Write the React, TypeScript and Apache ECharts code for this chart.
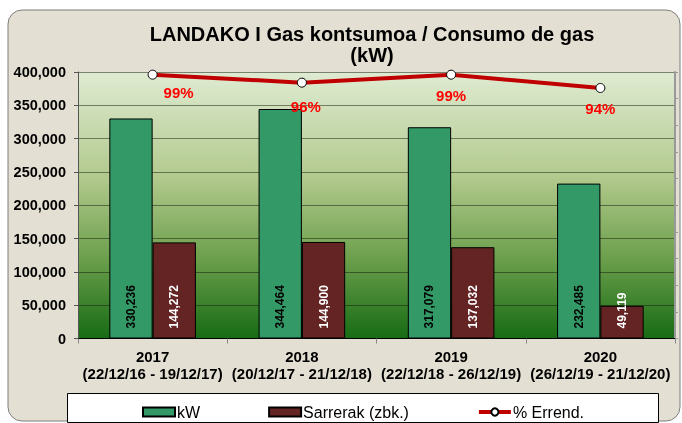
import React, { useEffect, useRef } from "react";
import * as echarts from "echarts";

const titleText = "LANDAKO I Gas kontsumoa / Consumo de gas\n(kW)";
const years = ["2017", "2018", "2019", "2020"];
const periods = [
  "(22/12/16 - 19/12/17)",
  "(20/12/17 - 21/12/18)",
  "(22/12/18 - 26/12/19)",
  "(26/12/19 - 21/12/20)",
];
const kwValues = [330236, 344464, 317079, 232485];
const sarrerakValues = [144272, 144900, 137032, 49119];
const errendValues = [0.99, 0.96, 0.99, 0.94];
const errendLabelOffsets = [
  [26, -3],
  [4, 3],
  [0, 0],
  [0, 0],
];
const seriesNames = ["kW", "Sarrerak (zbk.)", "% Errend."];

const FONT = "'Liberation Sans', Arial, sans-serif";

export default function App() {
  const ref = useRef<HTMLDivElement>(null);
  useEffect(() => {
    if (!ref.current) return;
    const chart = echarts.init(ref.current, null, { renderer: "svg" });
    const fmt = (v: number) => v.toLocaleString("en-US");
    const categories = years.map((y, i) => y + "\n" + periods[i]);
    chart.setOption({
      animation: false,
      backgroundColor: "transparent",
      textStyle: { fontFamily: FONT },
      graphic: [
        {
          type: "rect",
          z: -10,
          silent: true,
          shape: { x: 8, y: 10, width: 672, height: 411, r: 14 },
          style: { fill: "#e4dfd3", stroke: "#7d7d7d", lineWidth: 1 },
        },
        {
          type: "rect",
          z: -5,
          silent: true,
          shape: { x: 67.5, y: 393.5, width: 591, height: 29 },
          style: { fill: "#ffffff", stroke: "#000000", lineWidth: 1 },
        },
      ],
      title: {
        text: titleText,
        left: 367,
        top: 18,
        textAlign: "center",
        textStyle: {
          fontFamily: FONT,
          fontSize: 20,
          fontWeight: "bold",
          color: "#000",
          lineHeight: 21,
        },
      },
      legend: {
        left: 137,
        top: 399,
        itemGap: 68,
        itemWidth: 32,
        itemHeight: 9,
        data: [
          { name: seriesNames[0], icon: "rect" },
          { name: seriesNames[1], icon: "rect" },
          { name: seriesNames[2], lineStyle: { width: 4, color: "#c00000" } },
        ],
        textStyle: { fontFamily: FONT, fontSize: 16, color: "#000", padding: [0, 0, 0, -3] },
      },
      grid: {
        left: 78,
        top: 72,
        right: 7,
        bottom: 84.5,
        show: true,
        borderWidth: 0,
        backgroundColor: new echarts.graphic.LinearGradient(0, 0, 0, 1, [
          { offset: 0, color: "#dfebd2" },
          { offset: 0.4, color: "#b1c98c" },
          { offset: 0.7, color: "#6c9f4c" },
          { offset: 1, color: "#176b14" },
        ]),
      },
      xAxis: {
        type: "category",
        data: categories,
        axisLine: { lineStyle: { color: "#000", width: 1 } },
        axisTick: { show: true, length: 5, lineStyle: { color: "#888" } },
        axisLabel: {
          interval: 0,
          margin: 9,
          color: "#000",
          fontFamily: FONT,
          fontSize: 15,
          fontWeight: "bold",
          lineHeight: 17,
        },
      },
      yAxis: [
        {
          type: "value",
          min: 0,
          max: 400000,
          interval: 50000,
          axisLine: { show: true, lineStyle: { color: "#555", width: 1 } },
          axisTick: { show: true, length: 4, lineStyle: { color: "#555" } },
          splitLine: { lineStyle: { color: "rgba(20,25,10,0.5)", width: 1.2 } },
          axisLabel: {
            margin: 12,
            color: "#000",
            fontFamily: FONT,
            fontSize: 14.5,
            fontWeight: "bold",
            formatter: (v: number) => fmt(v),
          },
        },
        {
          type: "value",
          min: 0,
          max: 1,
          interval: 0.1,
          position: "right",
          axisLine: { show: true, lineStyle: { color: "#999", width: 2 } },
          axisTick: { show: true, length: 3, lineStyle: { color: "#999" } },
          axisLabel: { show: false },
          splitLine: { show: false },
        },
      ],
      series: [
        {
          name: seriesNames[0],
          type: "bar",
          data: kwValues,
          barGap: "0%",
          barCategoryGap: "42%",
          itemStyle: { color: "#339966", borderColor: "#000", borderWidth: 1 },
          label: {
            show: true,
            position: "insideBottom",
            rotate: 90,
            align: "left",
            verticalAlign: "middle",
            distance: 10,
            color: "#000",
            fontFamily: FONT,
            fontSize: 12,
            fontWeight: "bold",
            formatter: (p: any) => fmt(p.value),
          },
        },
        {
          name: seriesNames[1],
          type: "bar",
          data: sarrerakValues,
          itemStyle: { color: "#632423", borderColor: "#000", borderWidth: 1 },
          label: {
            show: true,
            position: "insideBottom",
            rotate: 90,
            align: "left",
            verticalAlign: "middle",
            distance: 10,
            color: "#fff",
            fontFamily: FONT,
            fontSize: 12,
            fontWeight: "bold",
            formatter: (p: any) => fmt(p.value),
          },
        },
        {
          name: seriesNames[2],
          type: "line",
          yAxisIndex: 1,
          z: 5,
          data: errendValues.map((v, i) => ({
            value: v,
            label: { offset: errendLabelOffsets[i] },
          })),
          symbol: "circle",
          symbolSize: 9,
          itemStyle: { color: "#ffffff", borderColor: "#000", borderWidth: 1 },
          lineStyle: { color: "#c00000", width: 4 },
          label: {
            show: true,
            position: "bottom",
            distance: 8,
            color: "#ff0000",
            fontFamily: FONT,
            fontSize: 15,
            fontWeight: "bold",
            formatter: (p: any) => Math.round(p.value * 100) + "%",
          },
        },
      ],
    });
    return () => chart.dispose();
  }, []);
  return (
    <div
      ref={ref}
      style={{ position: "fixed", left: 0, top: 0, width: 682, height: 423 }}
    />
  );
}
